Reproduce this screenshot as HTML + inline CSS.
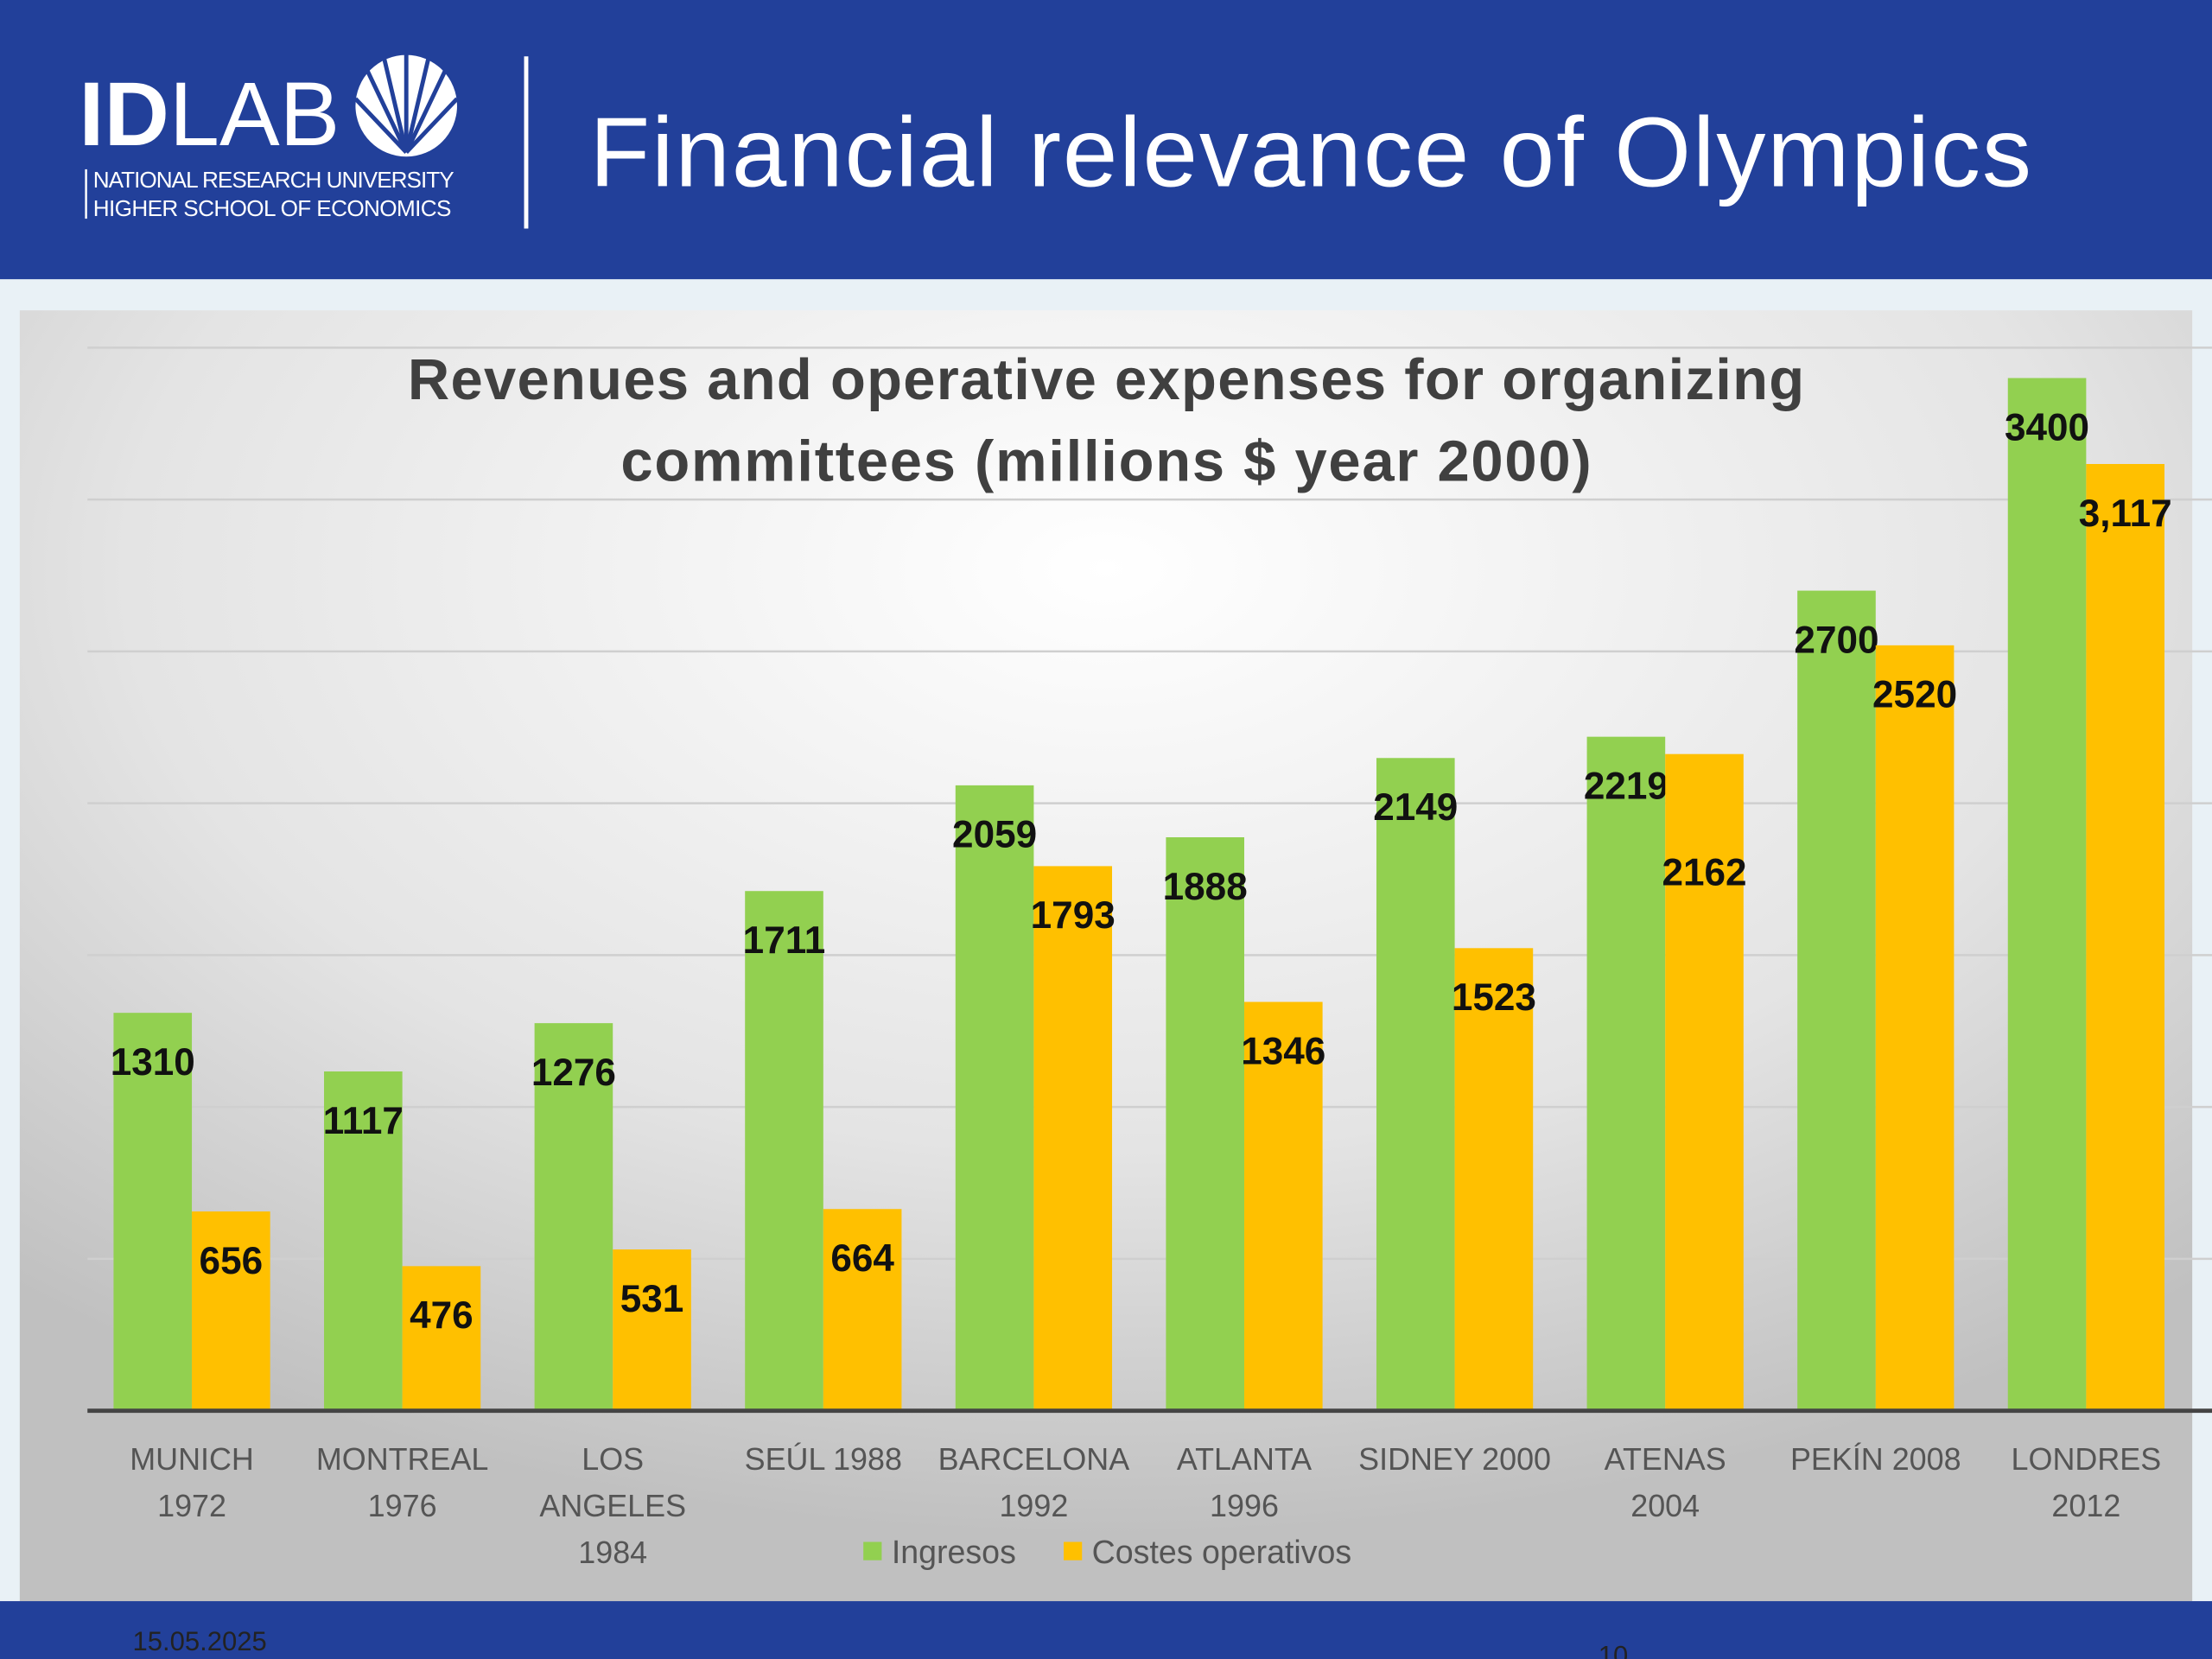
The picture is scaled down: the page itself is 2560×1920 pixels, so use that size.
<!DOCTYPE html>
<html><head><meta charset="utf-8"><style>
html,body{margin:0;padding:0;width:2560px;height:1920px;overflow:hidden;background:#e9f1f6}
svg{display:block}
text{font-family:"Liberation Sans",sans-serif}
</style></head><body>
<svg id="s" width="2560" height="1920" viewBox="0 0 1568 1176" xmlns="http://www.w3.org/2000/svg">
<defs>
<radialGradient id="bg" cx="0.5" cy="0.2" r="0.75">
<stop offset="0" stop-color="#ffffff"/><stop offset="0.6" stop-color="#e4e4e4"/><stop offset="1" stop-color="#c0c0c0"/>
</radialGradient>
</defs>
<rect x="0" y="0" width="1568" height="198" fill="#22409a"/>
<rect x="0" y="198" width="1568" height="937" fill="#e9f1f6"/>
<g>
<text x="56" y="103" fill="#fff" font-size="64" font-weight="bold">ID<tspan font-weight="normal">LAB</tspan></text>
<circle cx="288" cy="75" r="36" fill="#fff"/>
<g stroke="#22409a" stroke-width="3"><line x1="288" y1="108" x2="258" y2="45"/><line x1="288" y1="108" x2="272" y2="40"/><line x1="288" y1="108" x2="288" y2="38"/><line x1="288" y1="108" x2="304" y2="40"/><line x1="288" y1="108" x2="318" y2="45"/><line x1="288" y1="108" x2="252" y2="70"/><line x1="288" y1="108" x2="324" y2="70"/></g>
<line x1="61" y1="120" x2="61" y2="155" stroke="#fff" stroke-width="1.5"/>
<text x="66" y="133" fill="#fff" font-size="16" textLength="256">NATIONAL RESEARCH UNIVERSITY</text>
<text x="66" y="153" fill="#fff" font-size="16" textLength="254">HIGHER SCHOOL OF ECONOMICS</text>
</g>
<line x1="373" y1="40" x2="373" y2="162" stroke="#fff" stroke-width="3"/>
<text x="418" y="132" fill="#fff" font-size="70" textLength="1022">Financial relevance of Olympics</text>
<rect x="14" y="220" width="1540" height="915" fill="url(#bg)"/>
<g id="grid"></g>
<g id="bars"></g>
<line x1="62" y1="1000" x2="1568" y2="1000" stroke="#444" stroke-width="3"/>
<g id="cats"></g>
<text x="784" y="283" text-anchor="middle" font-size="41" font-weight="bold" fill="#404040" textLength="990">Revenues and operative expenses for organizing</text>
<text x="784" y="341" text-anchor="middle" font-size="41" font-weight="bold" fill="#404040" textLength="688">committees (millions $ year 2000)</text>
<g>
<rect x="612" y="1093" width="13" height="13" fill="#92d050"/>
<text x="632" y="1108" font-size="23" fill="#555">Ingresos</text>
<rect x="754" y="1093" width="13" height="13" fill="#ffc000"/>
<text x="774" y="1108" font-size="23" fill="#555">Costes operativos</text>
</g>
<rect x="0" y="1135" width="1568" height="41" fill="#22409a"/>
<text x="94" y="1170" font-size="19" fill="#222">15.05.2025</text>
<text x="1133" y="1180" font-size="19" fill="#222">10</text>
</svg>
<script>
const categories = [["MUNICH","1972"],["MONTREAL","1976"],["LOS","ANGELES","1984"],["SEÚL 1988"],["BARCELONA","1992"],["ATLANTA","1996"],["SIDNEY 2000"],["ATENAS","2004"],["PEKÍN 2008"],["LONDRES","2012"]];
const ingresos = [1310,1117,1276,1711,2059,1888,2149,2219,2700,3400];
const costes = [656,476,531,664,1793,1346,1523,2162,2520,3117];
const costesLabels = ["656","476","531","664","1793","1346","1523","2162","2520","3,117"];
const gridTicks = [500,1000,1500,2000,2500,3000,3500];
const NS = "http://www.w3.org/2000/svg";
const y = v => 1000 - v * 0.2153;
const xc = i => 136 + i * 149.2;
const bw = 55.5;
function mk(tag, attrs, parent){const e=document.createElementNS(NS,tag);for(const k in attrs)e.setAttribute(k,attrs[k]);parent.appendChild(e);return e;}
const grid=document.getElementById('grid'), bars=document.getElementById('bars'), cats=document.getElementById('cats');
gridTicks.forEach(t=>{
  const l=mk('line',{x1:62,x2:1568,y1:y(t),y2:y(t),stroke:'#cfcfcf','stroke-width':1.5},grid);
  
  
});
ingresos.forEach((v,i)=>{
  const r=mk('rect',{x:xc(i)-bw,y:y(v),width:bw,height:1000-y(v),fill:'#92d050'},bars);
  
  
  const t=mk('text',{x:xc(i)-bw/2,y:y(v)+44,'text-anchor':'middle','font-size':27,'font-weight':'bold',fill:'#111'},bars);
  t.textContent=String(v);
  
  
});
costes.forEach((v,i)=>{
  const r=mk('rect',{x:xc(i),y:y(v),width:bw,height:1000-y(v),fill:'#ffc000'},bars);
  
  
  const clash = Math.abs(y(v)-y(ingresos[i])) < 20;
  const t=mk('text',{x:xc(i)+bw/2,y:y(v)+(clash?93:44),'text-anchor':'middle','font-size':27,'font-weight':'bold',fill:'#111'},bars);
  t.textContent=costesLabels[i];
  
  
});
categories.forEach((lines,i)=>{
  lines.forEach((s,j)=>{
    const t=mk('text',{x:xc(i),y:1042+j*33,'text-anchor':'middle','font-size':22,fill:'#555'},cats);
    t.textContent=s;
    
    
  });
});
</script>
</body></html>
